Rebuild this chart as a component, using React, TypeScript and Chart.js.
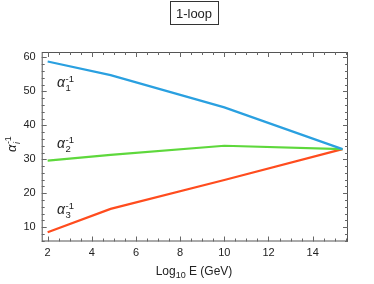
import React, { useEffect, useRef } from "react";
import { Chart, registerables } from "chart.js";

Chart.register(...registerables);

const log10E = [2, 4.85, 10, 15.35];
const alpha1Inv = [58.8, 54.8, 45.3, 33.0];
const alpha2Inv = [29.6, 31.3, 34.0, 33.0];
const alpha3Inv = [8.5, 15.4, 23.9, 33.0];
const xTicks = [2, 4, 6, 8, 10, 12, 14];
const yTicks = [10, 20, 30, 40, 50, 60];
const titleText = "1-loop";

const FONT = "'Liberation Sans', Arial, sans-serif";

function drawMath(ctx: CanvasRenderingContext2D, x: number, y: number, base: string, sub: string, sup: string, size: number) {
  ctx.font = `italic ${size}px ${FONT}`;
  ctx.textAlign = "left";
  ctx.textBaseline = "alphabetic";
  ctx.fillText(base, x, y);
  const w = ctx.measureText(base).width + 0.5;
  const small = size * 0.68;
  ctx.font = `${small}px ${FONT}`;
  ctx.fillText(sup, x + w, y - size * 0.38);
  ctx.font = `${sub === "i" ? "italic " : ""}${small}px ${FONT}`;
  ctx.fillText(sub, x + w, y + size * 0.28);
}

const decorPlugin = {
  id: "decor",
  afterDraw(chart: any) {
    const ctx: CanvasRenderingContext2D = chart.ctx;
    const { left, right, top, bottom } = chart.chartArea;
    const xs = chart.scales.x;
    const ys = chart.scales.y;
    ctx.save();
    // frame
    ctx.strokeStyle = "#555";
    ctx.lineWidth = 1;
    ctx.strokeRect(left + 0.5, top + 0.5, right - left - 1, bottom - top - 1);
    // ticks
    const tick = (isX: boolean, v: number, len: number) => {
      if (isX) {
        const p = Math.round(xs.getPixelForValue(v)) + 0.5;
        if (p < left || p > right) return;
        ctx.beginPath();
        ctx.moveTo(p, bottom);
        ctx.lineTo(p, bottom - len);
        ctx.moveTo(p, top);
        ctx.lineTo(p, top + len);
        ctx.stroke();
      } else {
        const p = Math.round(ys.getPixelForValue(v)) + 0.5;
        if (p < top || p > bottom) return;
        ctx.beginPath();
        ctx.moveTo(left, p);
        ctx.lineTo(left + len, p);
        ctx.moveTo(right, p);
        ctx.lineTo(right - len, p);
        ctx.stroke();
      }
    };
    ctx.strokeStyle = "#666";
    for (let v = 1; v <= 16; v += 0.5) tick(true, v, Number.isInteger(v / 2) ? 5 : 3);
    for (let v = 6; v <= 62; v += 2) tick(false, v, v % 10 === 0 ? 5 : 3);

    // title box
    ctx.font = `13px ${FONT}`;
    ctx.fillStyle = "#222";
    ctx.textAlign = "center";
    ctx.textBaseline = "middle";
    ctx.fillText(titleText, 194, 14);
    ctx.strokeStyle = "#333";
    ctx.strokeRect(170.5, 1.5, 48, 23);

    // x axis label
    ctx.textAlign = "left";
    ctx.textBaseline = "alphabetic";
    ctx.font = `12px ${FONT}`;
    const p1 = "Log";
    const p2 = "10";
    const p3 = " E (GeV)";
    ctx.font = `12px ${FONT}`;
    const w1 = ctx.measureText(p1).width;
    const w3 = ctx.measureText(p3).width;
    ctx.font = `9px ${FONT}`;
    const w2 = ctx.measureText(p2).width;
    let sx = 194 - (w1 + w2 + w3) / 2;
    const by = 275;
    ctx.font = `12px ${FONT}`;
    ctx.fillText(p1, sx, by);
    ctx.font = `9px ${FONT}`;
    ctx.fillText(p2, sx + w1, by + 3);
    ctx.font = `12px ${FONT}`;
    ctx.fillText(p3, sx + w1 + w2, by);

    // y axis label (rotated)
    ctx.save();
    ctx.translate(16, 152);
    ctx.rotate(-Math.PI / 2);
    drawMath(ctx, 0, 0, "α", "i", "-1", 13);
    ctx.restore();

    // curve labels
    drawMath(ctx, 57, 87, "α", "1", "-1", 14);
    drawMath(ctx, 57, 148, "α", "2", "-1", 14);
    drawMath(ctx, 57, 214, "α", "3", "-1", 14);
    ctx.restore();
  },
};

export default function App() {
  const ref = useRef<HTMLCanvasElement | null>(null);
  useEffect(() => {
    if (!ref.current) return;
    const mk = (vals: number[]) => log10E.map((x, i) => ({ x, y: vals[i] }));
    const chart = new Chart(ref.current, {
      type: "line",
      data: {
        datasets: [
          { label: "α1⁻¹", data: mk(alpha1Inv), borderColor: "#2aa0e0", borderWidth: 2.2, pointRadius: 0, fill: false, tension: 0 },
          { label: "α2⁻¹", data: mk(alpha2Inv), borderColor: "#5ed83c", borderWidth: 2.2, pointRadius: 0, fill: false, tension: 0 },
          { label: "α3⁻¹", data: mk(alpha3Inv), borderColor: "#ff4c1e", borderWidth: 2.2, pointRadius: 0, fill: false, tension: 0 },
        ],
      },
      options: {
        responsive: false,
        animation: false,
        layout: { padding: { top: 52, right: 26, left: 0, bottom: 0 } },
        plugins: { legend: { display: false }, tooltip: { enabled: false }, title: { display: false } },
        scales: {
          x: {
            type: "linear",
            min: 1.73,
            max: 15.6,
            afterFit: (s: any) => { s.height = 42.5; },
            afterBuildTicks: (s: any) => { s.ticks = xTicks.map((v) => ({ value: v })); },
            grid: { display: false, drawTicks: false },
            border: { display: false },
            ticks: { padding: 5, color: "#222", font: { family: FONT, size: 11 }, maxRotation: 0, autoSkip: false },
          },
          y: {
            type: "linear",
            min: 5.8,
            max: 61.6,
            afterFit: (s: any) => { s.width = 41.7; },
            afterBuildTicks: (s: any) => { s.ticks = yTicks.map((v) => ({ value: v })); },
            grid: { display: false, drawTicks: false },
            border: { display: false },
            ticks: { padding: 6, color: "#222", font: { family: FONT, size: 11 } },
          },
        },
      },
      plugins: [decorPlugin],
    } as any);
    return () => chart.destroy();
  }, []);
  return (
    <div style={{ position: "fixed", left: 0, top: 0, width: 374, height: 284, background: "#fff" }}>
      <canvas ref={ref} width={374} height={284} style={{ width: 374, height: 284, display: "block" }} />
    </div>
  );
}
